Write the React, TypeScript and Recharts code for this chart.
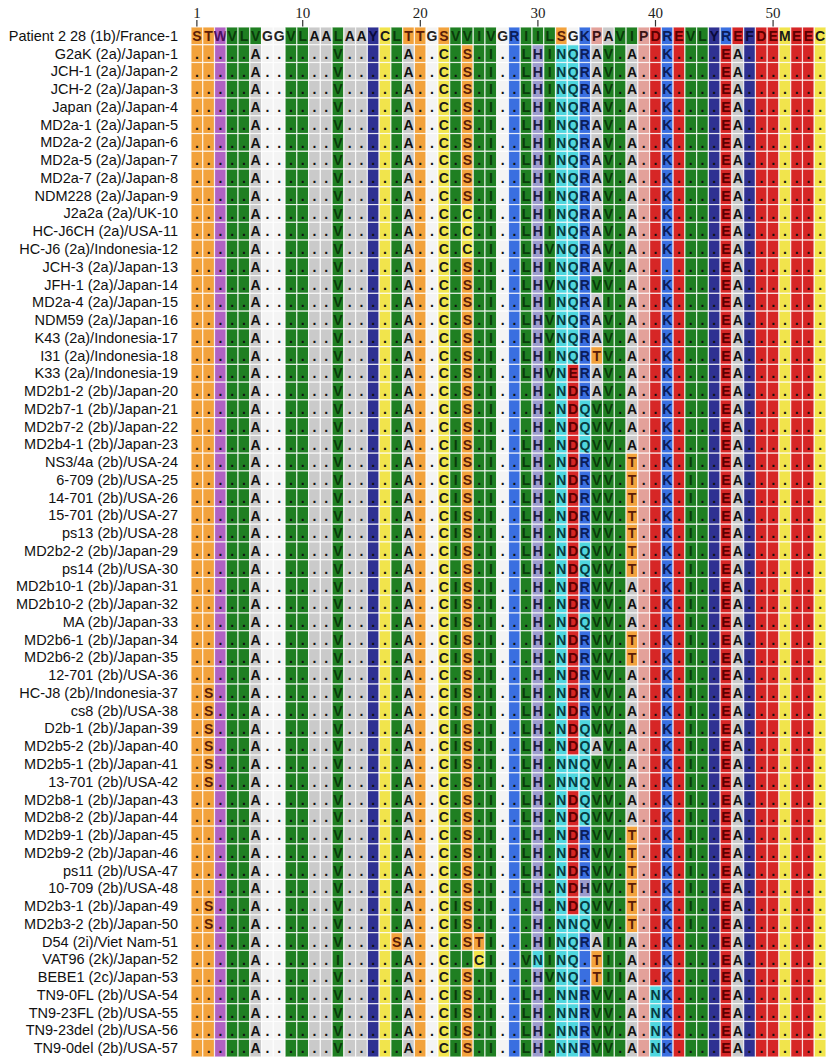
import { ScatterChart, Scatter, XAxis, YAxis } from 'recharts';

const REFERENCE_NAME = 'Patient 2 28 (1b)/France-1';
const REFERENCE_SEQ = 'STWVLVGGVLAALAAYCLTTGSVVIVGRIILSGKPAVIPDREVLYREFDEMEEC';
const POSITION_TICKS = [1, 10, 20, 30, 40, 50];

const STRAIN_NAMES = [
  'G2aK (2a)/Japan-1',
  'JCH-1 (2a)/Japan-2',
  'JCH-2 (2a)/Japan-3',
  'Japan (2a)/Japan-4',
  'MD2a-1 (2a)/Japan-5',
  'MD2a-2 (2a)/Japan-6',
  'MD2a-5 (2a)/Japan-7',
  'MD2a-7 (2a)/Japan-8',
  'NDM228 (2a)/Japan-9',
  'J2a2a (2a)/UK-10',
  'HC-J6CH (2a)/USA-11',
  'HC-J6 (2a)/Indonesia-12',
  'JCH-3 (2a)/Japan-13',
  'JFH-1 (2a)/Japan-14',
  'MD2a-4 (2a)/Japan-15',
  'NDM59 (2a)/Japan-16',
  'K43 (2a)/Indonesia-17',
  'I31 (2a)/Indonesia-18',
  'K33 (2a)/Indonesia-19',
  'MD2b1-2 (2b)/Japan-20',
  'MD2b7-1 (2b)/Japan-21',
  'MD2b7-2 (2b)/Japan-22',
  'MD2b4-1 (2b)/Japan-23',
  'NS3/4a (2b)/USA-24',
  '6-709 (2b)/USA-25',
  '14-701 (2b)/USA-26',
  '15-701 (2b)/USA-27',
  'ps13 (2b)/USA-28',
  'MD2b2-2 (2b)/Japan-29',
  'ps14 (2b)/USA-30',
  'MD2b10-1 (2b)/Japan-31',
  'MD2b10-2 (2b)/Japan-32',
  'MA (2b)/Japan-33',
  'MD2b6-1 (2b)/Japan-34',
  'MD2b6-2 (2b)/Japan-35',
  '12-701 (2b)/USA-36',
  'HC-J8 (2b)/Indonesia-37',
  'cs8 (2b)/USA-38',
  'D2b-1 (2b)/Japan-39',
  'MD2b5-2 (2b)/Japan-40',
  'MD2b5-1 (2b)/Japan-41',
  '13-701 (2b)/USA-42',
  'MD2b8-1 (2b)/Japan-43',
  'MD2b8-2 (2b)/Japan-44',
  'MD2b9-1 (2b)/Japan-45',
  'MD2b9-2 (2b)/Japan-46',
  'ps11 (2b)/USA-47',
  '10-709 (2b)/USA-48',
  'MD2b3-1 (2b)/Japan-49',
  'MD2b3-2 (2b)/Japan-50',
  'D54 (2i)/Viet Nam-51',
  'VAT96 (2k)/Japan-52',
  'BEBE1 (2c)/Japan-53',
  'TN9-0FL (2b)/USA-54',
  'TN9-23FL (2b)/USA-55',
  'TN9-23del (2b)/USA-56',
  'TN9-0del (2b)/USA-57',
];

// positions 1-27, '.' = same as reference
const SEQ_1_27 = [
  '.....A......V.....A..C.S.I.',
  '.....A......V.....A..C.S.I.',
  '.....A......V.....A..C.S.I.',
  '.....A......V.....A..C.S.I.',
  '.....A......V.....A..C.S.I.',
  '.....A......V.....A..C.S.I.',
  '.....A......V.....A..C.S.I.',
  '.....A......V.....A..C.S.I.',
  '.....A......V.....A..C.S.I.',
  '.....A......V.....A..C.C.I.',
  '.....A......V.....A..C.C.I.',
  '.....A......V.....A..C.C.I.',
  '.....A......V.....A..C.S.I.',
  '.....A......V.....A..C.S.I.',
  '.....A......V.....A..C.S.I.',
  '.....A......V.....A..C.S.I.',
  '.....A......V.....A..C.S.I.',
  '.....A......V.....A..C.S.I.',
  '.....A......V.....A..C.S.I.',
  '.....A......V.....A..C.S.I.',
  '.....A......V.....A..C.S.I.',
  '.....A......V.....A..C.S.I.',
  '.....A......V.....A..CIS.I.',
  '.....A......V.....A..CIS.I.',
  '.....A......V.....A..CIS.I.',
  '.....A......V.....A..CIS.I.',
  '.....A......V.....A..CIS.I.',
  '.....A......V.....A..CIS.I.',
  '.....A......V.....A..CIS.I.',
  '.....A......V.....A..C.S.I.',
  '.....A......V.....A..CIS.I.',
  '.....A......V.....A..CIS.I.',
  '.....A......V.....A..CIS.I.',
  '.....A......V.....A..CIS.I.',
  '.....A......V.....A..CIS.I.',
  '.....A......V.....A..C.S.I.',
  '.S...A......V.....A..CIS.I.',
  '.S...A......V.....A..CIS.I.',
  '.S...A......V.....A..CIS.I.',
  '.S...A......V.....A..CIS.I.',
  '.S...A......V.....A..CIS.I.',
  '.S...A......V.....A..C.S.I.',
  '.....A......V.....A..C.S.I.',
  '.....A......V.....A..C.S.I.',
  '.....A......V.....A..C.S.I.',
  '.....A......V.....A..C.S.I.',
  '.....A......V.....A..C.S.I.',
  '.....A......V.....A..C.S.I.',
  '.S...A......V.....A..CIS.I.',
  '.S...A......V.....A..CIS.I.',
  '.....A......V....SA..C.STI.',
  '.....A......I.....A..C..CI.',
  '.....A......V.....A..C.S.I.',
  '.....A......V.....A..CIS.I.',
  '.....A......V.....A..CIS.I.',
  '.....A......V.....A..CIS.I.',
  '.....A......V.....A..CIS.I.',
];

// positions 28-54
const SEQ_28_54 = [
  '.LHINQRAV.A..K....EA.......',
  '.LHINQRAV.A..K....EA.......',
  '.LHINQRAV.A..K....EA.......',
  '.LHINQRAV.A..K....EA.......',
  '.LHINQRAV.A..K....EA.......',
  '.LHINQRAV.A..K....EA.......',
  '.LHINQRAV.A..K....EA.......',
  '.LHINQRAV.A..K....EA.......',
  '.LHINQRAV.A..K....EA.......',
  '.LHINQRAV.A..K....EA.......',
  '.LHINQRAV.A..K....EA.......',
  '.LHVNQRAV.A..K....EA.......',
  '.LHINQRAV.A.......EA.......',
  '.LHVNQRVV.A..K....EA.......',
  '.LHINQRAI.A..K....EA.......',
  '.LHVNQRAV.A..K....EA.......',
  '.LHVNQRAV.A..K....EA.......',
  '.LHINQRTV.A..K....EA.......',
  '.LHVNERAV.A..K....EA.......',
  '..H.NDRAV.A..K....EA.......',
  '..H.NDQVV.A..K....EA.......',
  '..H.NDQVV.A..K....EA.......',
  '.LH.NDQVV.A..K....EA.......',
  '.LH.NDRVV.T..K.I..EA.......',
  '.LH.NDRVV.T..K.I..EA.......',
  '.LH.NDRVV.T..K.I..EA.......',
  '.LH.NDRVV.T..K.I..EA.......',
  '.LH.NDRVV.T..K.I..EA.......',
  '.LH.NDQVV.T..K.I..EA.......',
  '.LH.NDQVV.T..K.I..EA.......',
  '..H.NDRVV.A..K.I..EA.......',
  '..H.NDRVV.A..K.I..EA.......',
  '..H.NDQVV.A..K.I..EA.......',
  '..H.NDRVV.T..K.I..EA.......',
  '..H.NDRVV.T..K.I..EA.......',
  '..H.NDRVV.A..K.I..EA.......',
  '.LH.NDRVV.A..K.I..EA.......',
  '.LH.NDRVV.A..K.I..EA.......',
  '.LH.NDQVV.A..K.I..EA.......',
  '.LH.NDQAV.A..K.I..EA.......',
  '.LH.NNQVV.A..K.I..EA.......',
  '.LH.NNQVV.A..K.I..EA.......',
  '.LH.NDQVV.A..K.I..EA.......',
  '.LH.NDQVV.A..K.I..EA.......',
  '.LH.NDRVV.T..K.I..EA.......',
  '.LH.NDRVV.T..K.I..EA.......',
  '.LH.NDRVV.T..K.I..EA.......',
  '.LH.NDHVV.T..K.I..EA.......',
  '..H.NDQVV.T..K.I..EA.......',
  '..H.NNQVV.T..K.I..EA.......',
  '..HINQRAIIA..K....EA.......',
  '.VNINQ.TI.A..K....EA.......',
  '..HVNQ.TIIA..K....EA.......',
  '.LH.NNRVV.A.NK....EA.......',
  '.LH.NNRVV.A.NK....EA.......',
  '.LH.NNRVV.A.NK....EA.......',
  '.LH.NNRVV.A.NK....EA.......',
];

const GROUP: Record<string, string> = {
  S: 'st', T: 'st', W: 'w', V: 'hyd', L: 'hyd', I: 'hyd', G: 'g', A: 'a',
  Y: 'aro', F: 'aro', R: 'pos', K: 'pos', C: 'cm', M: 'cm', D: 'neg', E: 'neg',
  P: 'p', N: 'nq', Q: 'nq', H: 'h',
};

const FILL: Record<string, string> = {
  st: '#f2a23c', w: '#b062c2', hyd: '#1f7f22', g: '#f4f4f4', a: '#cacaca',
  aro: '#2f3192', pos: '#3a6fe0', cm: '#f1e44c', neg: '#d62626', p: '#e3a19a',
  nq: '#4fd6de', h: '#9c9ccd',
};

const INK: Record<string, string> = {
  st: '#5a1c08', w: '#4a1060', hyd: '#0a3a0b', g: '#222222', a: '#111111',
  aro: '#0a0a3c', pos: '#0b1d58', cm: '#1a1a1a', neg: '#5c0000', p: '#3a1414',
  nq: '#083a40', h: '#1a1a40',
};

const CHART_W = 830;
const CHART_H = 1058;
const LABEL_W = 191;
const TOP_H = 27;
const MARGIN = { top: 0, right: 4, bottom: 1, left: 0 };
const ROW_LABELS = [REFERENCE_NAME, ...STRAIN_NAMES];
const CELL_W = (CHART_W - LABEL_W - MARGIN.right) / REFERENCE_SEQ.length;
const CELL_H = (CHART_H - TOP_H - MARGIN.bottom) / ROW_LABELS.length;

const cells: { pos: number; row: number; res: string; mark: string }[] = [];
ROW_LABELS.forEach((_, row) => {
  const seq = row === 0 ? REFERENCE_SEQ : SEQ_1_27[row - 1] + SEQ_28_54[row - 1];
  seq.split('').forEach((ch, i) => {
    const res = ch === '.' ? REFERENCE_SEQ[i] : ch;
    cells.push({ pos: i + 1, row, res, mark: ch });
  });
});

function ResidueCell(props: any) {
  const { cx, cy, payload } = props;
  const g = GROUP[payload.res];
  const isDot = payload.mark === '.';
  return (
    <g>
      <rect
        x={cx - CELL_W / 2}
        y={cy - CELL_H / 2}
        width={CELL_W}
        height={CELL_H}
        fill={FILL[g]}
        stroke="#ffffff"
        strokeOpacity={0.75}
        strokeWidth={1.2}
      />
      <text
        x={cx}
        y={cy + 5.2}
        textAnchor="middle"
        fontFamily="'Liberation Sans', Arial, sans-serif"
        fontWeight="bold"
        fontSize={14}
        fill={isDot ? '#111111' : INK[g]}
      >
        {payload.mark}
      </text>
    </g>
  );
}

function StrainTick({ x, y, payload }: any) {
  return (
    <text
      x={x}
      y={y}
      dy={5}
      textAnchor="end"
      fontFamily="'Liberation Sans', Arial, sans-serif"
      fontSize={14.5}
      fill="#111111"
    >
      {ROW_LABELS[payload.value]}
    </text>
  );
}

function PositionTick({ x, y, payload }: any) {
  return (
    <text
      x={x}
      y={y}
      textAnchor="middle"
      fontFamily="'Liberation Serif', 'Times New Roman', serif"
      fontSize={15}
      fill="#222222"
    >
      {payload.value}
    </text>
  );
}

export default function App() {
  return (
    <div style={{ position: 'absolute', left: 0, top: 0, background: '#ffffff' }}>
      <ScatterChart width={CHART_W} height={CHART_H} margin={MARGIN}>
        <XAxis
          type="number"
          dataKey="pos"
          orientation="top"
          domain={[0.5, REFERENCE_SEQ.length + 0.5]}
          ticks={POSITION_TICKS}
          interval={0}
          height={TOP_H}
          axisLine={false}
          tickSize={7}
          tickMargin={2}
          tickLine={{ stroke: '#333333', strokeWidth: 1.2 }}
          tick={<PositionTick />}
        />
        <YAxis
          type="number"
          dataKey="row"
          reversed
          domain={[-0.5, ROW_LABELS.length - 0.5]}
          ticks={ROW_LABELS.map((_, i) => i)}
          interval={0}
          width={LABEL_W}
          axisLine={false}
          tickLine={false}
          tickSize={0}
          tickMargin={13}
          tick={<StrainTick />}
        />
        <Scatter data={cells} shape={ResidueCell} isAnimationActive={false} />
      </ScatterChart>
    </div>
  );
}
